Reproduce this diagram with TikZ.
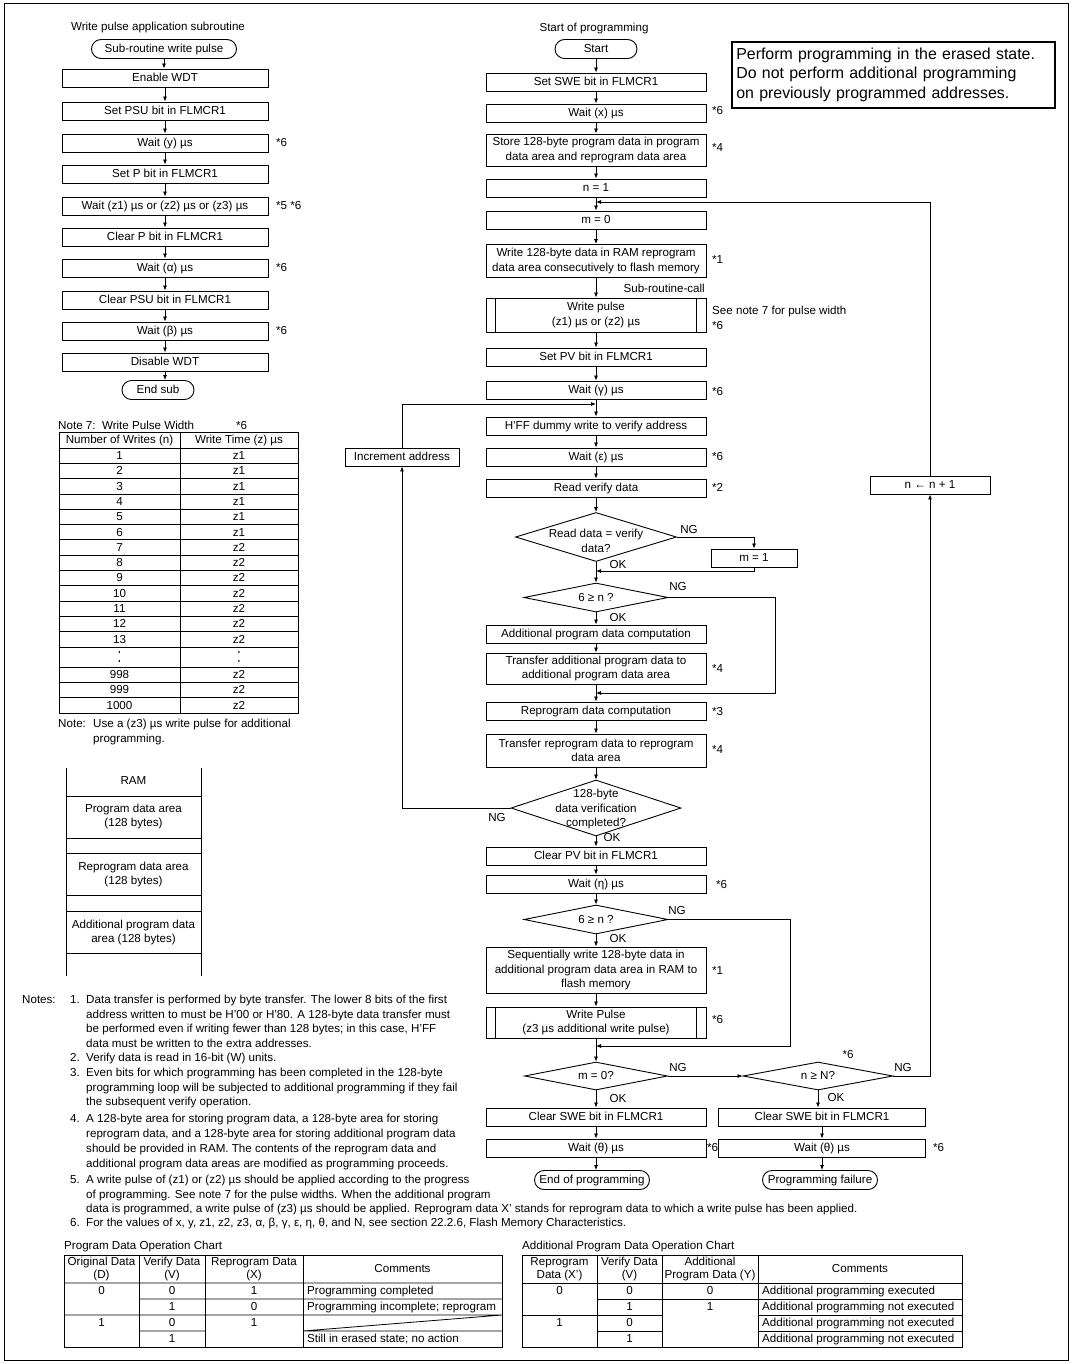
\documentclass[tikz,border=0pt]{standalone}
\usepackage{fontspec}
\setmainfont{Liberation Sans}
\usetikzlibrary{arrows.meta,shapes.geometric}
\newcommand{\fsz}{\fontsize{11.6}{14.5}\selectfont}
\newcommand{\fhead}{\fontsize{11.6}{12.8}\selectfont}
\newcommand{\fbig}{\fontsize{15.9}{19.5}\selectfont}
\tikzset{
  box/.style={draw,line width=0.9pt,inner sep=1pt,font=\fsz},
  proc/.style={box,minimum width=220pt,minimum height=18pt,
    text height=8.3pt,text depth=0.5pt},
  proctwo/.style={box,minimum width=220pt,align=center},
  subproc/.style={proc,minimum width=206pt},
  term/.style={box,rounded corners=9.5pt,minimum height=19pt,
    text height=8.3pt,text depth=0.5pt,inner xsep=4pt},
  dec/.style={diamond,draw,line width=0.9pt,inner sep=0pt},
  txt/.style={font=\fsz,inner sep=0pt},
  cell/.style={txt,text height=8.3pt,text depth=0.5pt},
  lbl/.style={cell,anchor=west},
  conn/.style={-{Latex[length=5pt,width=4pt]},line width=0.8pt},
  wire/.style={line width=0.8pt},
  grid/.style={line width=0.8pt}
}

\begin{document}
\begin{tikzpicture}[x=1pt,y=-1pt]
\useasboundingbox (0,0) rectangle (1072,1364);
\draw[line width=1pt] (4,4) rectangle (1068,1360);

% write pulse subroutine
\node[txt] (subtitle) at (158,28) {Write pulse application subroutine};
\node[term,minimum width=145pt] (swp) at (164,49) {Sub-routine write pulse};
\node[subproc] (s1) at (165,78) {Enable WDT};
\node[subproc] (s2) at (165,111) {Set PSU bit in FLMCR1};
\node[subproc] (s3) at (165,143) {Wait (y) µs};
\node[subproc] (s4) at (165,174) {Set P bit in FLMCR1};
\node[subproc] (s5) at (165,206) {Wait (z1) µs or (z2) µs or (z3) µs};
\node[subproc] (s6) at (165,237) {Clear P bit in FLMCR1};
\node[subproc] (s7) at (165,268) {Wait (α) µs};
\node[subproc] (s8) at (165,300) {Clear PSU bit in FLMCR1};
\node[subproc] (s9) at (165,331) {Wait (β) µs};
\node[subproc] (s10) at (165,362) {Disable WDT};
\node[term,minimum width=72pt] (endsub) at (158,390) {End sub};
\foreach \a/\b in {swp/s1,s1/s2,s2/s3,s3/s4,s4/s5,s5/s6,s6/s7,s7/s8,s8/s9,s9/s10}
  \draw[conn] (\a.south) -- (\a.south |- \b.north);
\draw[conn] (s10.south) -- (s10.south |- endsub.north);
\node[lbl] (s3n) at (276,143) {*6};
\node[lbl] (s5n) at (276,206) {*5 *6};
\node[lbl] (s7n) at (276,268) {*6};
\node[lbl] (s9n) at (276,331) {*6};

% note 7 table
\node[lbl] (n7title) at (58,426) {Note 7:\ \ Write Pulse Width};
\node[lbl] (n7star) at (236,426) {*6};
\draw[grid] (59,432) rectangle (298,713) (180,432) -- (180,713) (59,448) -- (298,448);
\node[cell] (n7ha) at (119.5,440) {Number of Writes (n)};
\node[cell] (n7hb) at (239,440) {Write Time (z) µs};
\foreach \z [count=\k] in {z1,z1,z1,z1,z1,z1,z2,z2,z2,z2,z2,z2,z2} {
  \node[cell] (wn\k) at (119.5,{448+15.3*\k-7.65}) {\k};
  \node[cell] (wz\k) at (239,{448+15.3*\k-7.65}) {\z};
  \draw[grid] (59,{448+15.3*\k}) -- (298,{448+15.3*\k});
}
\node[txt] (wndots) at (119.5,657) {\scalebox{1}[1.8]{:}};
\node[txt] (wzdots) at (239,657) {\scalebox{1}[1.8]{:}};
\draw[grid] (59,667) -- (298,667) (59,682.3) -- (298,682.3) (59,697.6) -- (298,697.6);
\foreach \n/\y in {998/674.6,999/689.9,1000/705.3} {
  \node[cell] (wn\n) at (119.5,\y) {\n};
  \node[cell] (wz\n) at (239,\y) {z2};
}
\node[lbl] (n7note) at (58,724) {Note:};
\node[lbl] (n7notea) at (93,724) {Use a (z3) µs write pulse for additional};
\node[lbl] (n7noteb) at (93,739) {programming.};

% RAM areas
\draw[grid] (66,768) -- (66,976) (201,768) -- (201,976);
\foreach \y in {796,838,853,895,911,953} \draw[grid] (66,\y) -- (201,\y);
\node[cell] (ram) at (133.5,781) {RAM};
\node[txt,align=center] (ramprog) at (133.5,816.5) {Program data area\\(128 bytes)};
\node[txt,align=center] (ramrep) at (133.5,874.5) {Reprogram data area\\(128 bytes)};
\node[txt,align=center] (ramadd) at (133.5,932.5) {Additional program data\\area (128 bytes)};

% notes
\node[lbl] (notes) at (22,1000) {Notes:};
\foreach \y/\t [count=\k] in {1000/1.,1058/2.,1073/3.,1118.5/4.,1179.5/5.,1222.5/6.}
  \node[cell,anchor=east] (nn\k) at (80,\y) {\t};
\foreach \y/\t [count=\k] in {
  1000/{Data transfer is performed by byte transfer. The lower 8 bits of the first},
  1014.5/{address written to must be H'00 or H'80. A 128-byte data transfer must},
  1029/{be performed even if writing fewer than 128 bytes; in this case, H'FF},
  1043.5/{data must be written to the extra addresses.},
  1058/{Verify data is read in 16-bit (W) units.},
  1073/{Even bits for which programming has been completed in the 128-byte},
  1087.5/{programming loop will be subjected to additional programming if they fail},
  1102/{the subsequent verify operation.},
  1118.5/{A 128-byte area for storing program data, a 128-byte area for storing},
  1133.5/{reprogram data, and a 128-byte area for storing additional program data},
  1148.5/{should be provided in RAM. The contents of the reprogram data and},
  1163.5/{additional program data areas are modified as programming proceeds.},
  1179.5/{A write pulse of (z1) or (z2) µs should be applied according to the progress},
  1194.5/{of programming. See note 7 for the pulse widths. When the additional program},
  1208.5/{data is programmed, a write pulse of (z3) µs should be applied. Reprogram data X' stands for reprogram data to which a write pulse has been applied.},
  1222.5/{For the values of x, y, z1, z2, z3, α, β, γ, ε, η, θ, and N, see section 22.2.6, Flash Memory Characteristics.}}
  \node[lbl] (nl\k) at (86,\y) {\t};

% program data operation chart
\node[lbl] (pdtitle) at (64,1246) {Program Data Operation Chart};
\draw[grid] (64,1255) rectangle (502,1347);
\draw[grid] (139,1255) -- (139,1347) (205,1255) -- (205,1347) (303,1255) -- (303,1347);
\draw[grid] (64,1283) -- (502,1283) (139,1299) -- (502,1299) (64,1315) -- (502,1315)
  (139,1331) -- (205,1331) (303,1331) -- (502,1331) (303,1331) -- (502,1315);
\node[txt,align=center,font=\fhead] (pdha) at (101.5,1269) {Original Data\\(D)};
\node[txt,align=center,font=\fhead] (pdhb) at (172,1269) {Verify Data\\(V)};
\node[txt,align=center,font=\fhead] (pdhc) at (254,1269) {Reprogram Data\\(X)};
\node[cell] (pdhd) at (402.5,1269) {Comments};
\node[cell] (pd1a) at (101.5,1291) {0};
\node[cell] (pd1b) at (172,1291) {0};
\node[cell] (pd1c) at (254,1291) {1};
\node[lbl] (pd1d) at (307,1291) {Programming completed};
\node[cell] (pd2b) at (172,1307) {1};
\node[cell] (pd2c) at (254,1307) {0};
\node[lbl] (pd2d) at (307,1307) {Programming incomplete; reprogram};
\node[cell] (pd3a) at (101.5,1323) {1};
\node[cell] (pd3b) at (172,1323) {0};
\node[cell] (pd3c) at (254,1323) {1};
\node[cell] (pd4b) at (172,1339) {1};
\node[lbl] (pd4d) at (307,1339) {Still in erased state; no action};

% additional program data operation chart
\node[lbl] (adtitle) at (522,1246) {Additional Program Data Operation Chart};
\draw[grid] (522,1255) rectangle (962,1347);
\draw[grid] (597,1255) -- (597,1347) (662,1255) -- (662,1347) (758,1255) -- (758,1347);
\draw[grid] (522,1283) -- (962,1283) (597,1299) -- (962,1299) (522,1315) -- (662,1315)
  (758,1315) -- (962,1315) (597,1331) -- (662,1331) (758,1331) -- (962,1331);
\node[txt,align=center,font=\fhead] (adha) at (559.5,1269) {Reprogram\\Data (X')};
\node[txt,align=center,font=\fhead] (adhb) at (629.5,1269) {Verify Data\\(V)};
\node[txt,align=center,font=\fhead] (adhc) at (710,1269) {Additional\\Program Data (Y)};
\node[cell] (adhd) at (860,1269) {Comments};
\node[cell] (ad1a) at (559.5,1291) {0};
\node[cell] (ad1b) at (629.5,1291) {0};
\node[cell] (ad1c) at (710,1291) {0};
\node[lbl] (ad1d) at (762,1291) {Additional programming executed};
\node[cell] (ad2b) at (629.5,1307) {1};
\node[cell] (ad2c) at (710,1307) {1};
\node[lbl] (ad2d) at (762,1307) {Additional programming not executed};
\node[cell] (ad3a) at (559.5,1323) {1};
\node[cell] (ad3b) at (629.5,1323) {0};
\node[lbl] (ad3d) at (762,1323) {Additional programming not executed};
\node[cell] (ad4b) at (629.5,1339) {1};
\node[lbl] (ad4d) at (762,1339) {Additional programming not executed};

% caution box
\node[draw,line width=1.6pt,anchor=north west,minimum height=66pt,text width=314pt,
  inner xsep=4.5pt,align=left,font=\fbig] (caution) at (731,41)
  {Perform programming in the erased state.\\Do not perform additional programming\\on previously programmed addresses.};

% main programming flow
\node[txt] (progtitle) at (594,29) {Start of programming};
\node[term,minimum width=82pt] (start) at (596,49) {Start};
\node[proc] (sswe) at (596,82) {Set SWE bit in FLMCR1};
\node[proc] (wx) at (596,113) {Wait (x) µs};
\node[proctwo,minimum height=32pt] (store) at (596,150) {Store 128-byte program data in program\\data area and reprogram data area};
\node[proc] (none) at (596,188) {n = 1};
\node[proc] (mzero) at (596,220) {m = 0};
\node[proctwo,minimum height=33pt] (wram) at (596,261) {Write 128-byte data in RAM reprogram\\data area consecutively to flash memory};
\node[cell,anchor=east] (subcall) at (705,289) {Sub-routine-call};
\node[proctwo,minimum height=34pt] (wpulse) at (596,315) {Write pulse\\(z1) µs or (z2) µs};
\draw[wire] ([xshift=10pt]wpulse.north west) -- ([xshift=10pt]wpulse.south west)
  ([xshift=-10pt]wpulse.north east) -- ([xshift=-10pt]wpulse.south east);
\node[proc] (spv) at (596,357) {Set PV bit in FLMCR1};
\node[proc] (wgam) at (596,390) {Wait (γ) µs};
\node[proc] (hff) at (596,426) {H'FF dummy write to verify address};
\node[proc] (weps) at (596,457) {Wait (ε) µs};
\node[proc] (rvd) at (596,488) {Read verify data};
\node[dec,minimum width=161pt,minimum height=49pt] (dread) at (596,537) {};
\node[txt,align=center] (dreadt) at (596,541) {Read data = verify\\data?};
\node[proc,minimum width=86pt] (mone) at (754,558) {m = 1};
\node[dec,minimum width=144pt,minimum height=29pt] (dsixa) at (596,597.5) {};
\node[cell] (dsixat) at (596,597.5) {6 ≥ n ?};
\node[proc] (apc) at (596,634) {Additional program data computation};
\node[proctwo,minimum height=31pt] (tapd) at (596,668.5) {Transfer additional program data to\\additional program data area};
\node[proc] (rdc) at (596,711) {Reprogram data computation};
\node[proctwo,minimum height=33pt] (trd) at (596,750.5) {Transfer reprogram data to reprogram\\data area};
\node[dec,minimum width=170pt,minimum height=56pt] (dver) at (596,808) {};
\node[txt,align=center] (dvert) at (596,809) {128-byte\\data verification\\completed?};
\node[proc] (cpv) at (596,856) {Clear PV bit in FLMCR1};
\node[proc] (weta) at (596,884) {Wait (η) µs};
\node[dec,minimum width=144pt,minimum height=29pt] (dsixb) at (596,919.5) {};
\node[cell] (dsixbt) at (596,919.5) {6 ≥ n ?};
\node[proctwo,minimum height=46pt] (seqw) at (596,970) {Sequentially write 128-byte data in\\additional program data area in RAM to\\flash memory};
\node[proctwo,minimum height=31pt] (wpulsez) at (596,1022.5) {Write Pulse\\(z3 µs additional write pulse)};
\draw[wire] ([xshift=10pt]wpulsez.north west) -- ([xshift=10pt]wpulsez.south west)
  ([xshift=-10pt]wpulsez.north east) -- ([xshift=-10pt]wpulsez.south east);
\node[dec,minimum width=143pt,minimum height=28pt] (dmz) at (596,1076) {};
\node[cell] (dmzt) at (596,1076) {m = 0?};
\node[dec,minimum width=150pt,minimum height=28pt] (dnn) at (818,1076) {};
\node[cell] (dnnt) at (818,1076) {n ≥ N?};
\node[proc] (cswea) at (596,1117) {Clear SWE bit in FLMCR1};
\node[proc] (wtha) at (596,1148) {Wait (θ) µs};
\node[term,minimum width=115pt] (endp) at (592,1180) {End of programming};
\node[proc,minimum width=207pt] (csweb) at (822,1117) {Clear SWE bit in FLMCR1};
\node[proc,minimum width=207pt] (wthb) at (822,1148) {Wait (θ) µs};
\node[term,minimum width=115pt] (fail) at (820,1180) {Programming failure};
\node[proc,minimum width=120pt] (ninc) at (930,485) {n ← n + 1};
\node[proc,minimum width=114pt] (incaddr) at (402,457) {Increment address};

% junctions on the main line
\coordinate (jloop) at (596,202);
\coordinate (jver) at (596,404);
\coordinate (jmone) at (596,571);
\coordinate (jadd) at (596,693);
\coordinate (jmz) at (596,1046);

% straight flow
\foreach \a/\b in {start/sswe,sswe/wx,wx/store,store/none,none/mzero,mzero/wram,
  wram/wpulse,wpulse/spv,spv/wgam,wgam/hff,hff/weps,weps/rvd,rvd/dread,dread/dsixa,
  dsixa/apc,apc/tapd,tapd/rdc,rdc/trd,trd/dver,dver/cpv,cpv/weta,weta/dsixb,
  dsixb/seqw,seqw/wpulsez,wpulsez/dmz,dmz/cswea,cswea/wtha,wtha/endp,
  dnn/csweb,csweb/wthb,wthb/fail}
  \draw[conn] (\a.south) -- (\a.south |- \b.north);

% branches and loops
\draw[conn] (dread.east) -| (mone.north);
\draw[conn] (mone.south) |- (jmone);
\draw[conn] (dsixa.east) -- ++(107,0) |- (jadd);
\draw[conn] (dsixb.east) -- ++(122,0) |- (jmz);
\draw[conn] (dver.west) -| (incaddr.south);
\draw[conn] (incaddr.north) |- (jver);
\draw[conn] (dmz.east) -- (dnn.west);
\draw[conn] (dnn.east) -| (ninc.south);
\draw[conn] (ninc.north) |- (jloop);

% branch labels
\node[cell] (ngread) at (689,530) {NG};
\node[cell] (okread) at (618,565) {OK};
\node[cell] (ngsixa) at (678,587) {NG};
\node[cell] (oksixa) at (618,618) {OK};
\node[cell] (ngver) at (497,818) {NG};
\node[cell] (okver) at (612,838) {OK};
\node[cell] (ngsixb) at (677,911) {NG};
\node[cell] (oksixb) at (618,939) {OK};
\node[cell] (ngmz) at (678,1068) {NG};
\node[cell] (okmz) at (618,1099) {OK};
\node[cell] (ngnn) at (903,1068) {NG};
\node[cell] (oknn) at (836,1098) {OK};

% note references
\node[lbl] (wxn) at (712,111) {*6};
\node[lbl] (storen) at (712,148) {*4};
\node[lbl] (wramn) at (712,260) {*1};
\node[lbl] (seenote) at (712,311) {See note 7 for pulse width};
\node[lbl] (wpulsen) at (712,326) {*6};
\node[lbl] (wgamn) at (712,392) {*6};
\node[lbl] (wepsn) at (712,457) {*6};
\node[lbl] (rvdn) at (712,488) {*2};
\node[lbl] (tapdn) at (712,669) {*4};
\node[lbl] (rdcn) at (712,712) {*3};
\node[lbl] (trdn) at (712,750) {*4};
\node[lbl] (wetan) at (716,885) {*6};
\node[lbl] (seqwn) at (712,971) {*1};
\node[lbl] (wpulsezn) at (712,1020) {*6};
\node[cell] (dnnn) at (848,1055) {*6};
\node[lbl] (wthan) at (707,1148) {*6};
\node[lbl] (wthbn) at (933,1148) {*6};
\end{tikzpicture}
\end{document}
